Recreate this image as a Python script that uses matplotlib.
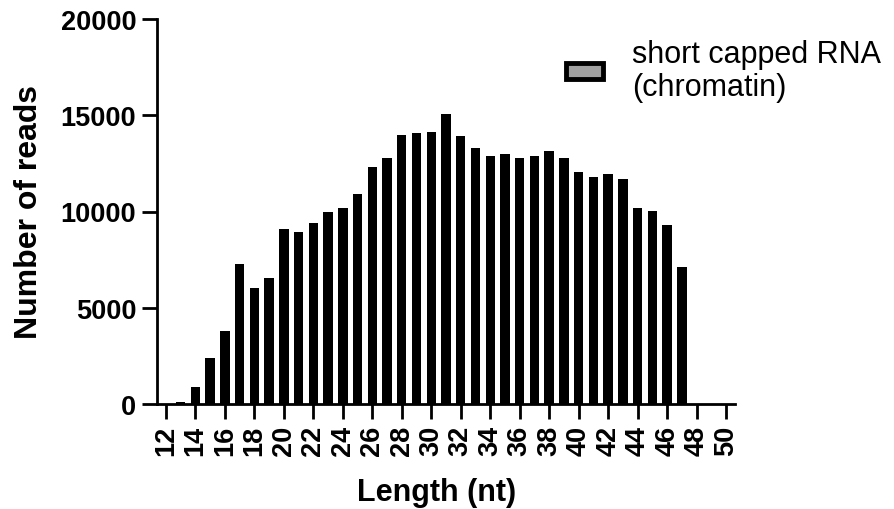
import matplotlib
matplotlib.use('Agg')
import matplotlib.pyplot as plt
from matplotlib.patches import Patch
import numpy as np

plt.rcParams['font.family'] = ['Liberation Sans', 'DejaVu Sans']

# read lengths (nt) and counts
lengths = list(range(12, 51))
reads = [0, 100, 870, 2400, 3800, 7250, 6050, 6550, 9100, 8950,
         9400, 9950, 10200, 10900, 12300, 12800, 14000, 14100, 14150, 15050,
         13900, 13300, 12900, 13000, 12800, 12900, 13150, 12800, 12050, 11800,
         11950, 11700, 10200, 10050, 9300, 7100, 0, 0, 0]
xticks = list(range(12, 51, 2))
yticks = [0, 5000, 10000, 15000, 20000]
series_name = 'short capped RNA\n(chromatin)'

fig = plt.figure(figsize=(8.94, 5.1), dpi=100)
ax = fig.add_axes([157 / 894, 1 - 405 / 510, (735 - 157) / 894, (405 - 20) / 510])

ax.bar(lengths, reads, width=0.64, color='black', linewidth=0)

ax.set_xlim(11.4, 50.6)
ax.set_ylim(0, 20000)
ax.set_xticks(xticks)
ax.set_yticks(yticks)
ax.set_xticklabels([str(t) for t in xticks], rotation=90)

for s in ['top', 'right']:
    ax.spines[s].set_visible(False)
for s in ['left', 'bottom']:
    ax.spines[s].set_linewidth(2)

ax.tick_params(axis='both', direction='out', length=11, width=2,
               labelsize=19.5)
ax.tick_params(axis='y', pad=4)
ax.tick_params(axis='x', pad=4)
for lab in ax.get_xticklabels() + ax.get_yticklabels():
    lab.set_fontweight('bold')

ax.set_xlabel('Length (nt)', fontsize=22, fontweight='bold')
ax.set_ylabel('Number of reads', fontsize=23, fontweight='bold')
ax.xaxis.set_label_coords(0.483, -0.19)
ax.yaxis.set_label_coords(-0.195, 0.5)

handle = Patch(facecolor='#a0a0a0', edgecolor='black', linewidth=3.5)
leg = fig.legend([handle], [series_name], loc='upper left',
                 bbox_to_anchor=(566 / 894, 1 - 40 / 510), frameon=False,
                 fontsize=22, borderpad=0, borderaxespad=0,
                 handlelength=1.2, handleheight=0.45, handletextpad=0.95)
for t in leg.get_texts():
    t.set_linespacing(1.12)

fig.savefig('out.png', dpi=100)
